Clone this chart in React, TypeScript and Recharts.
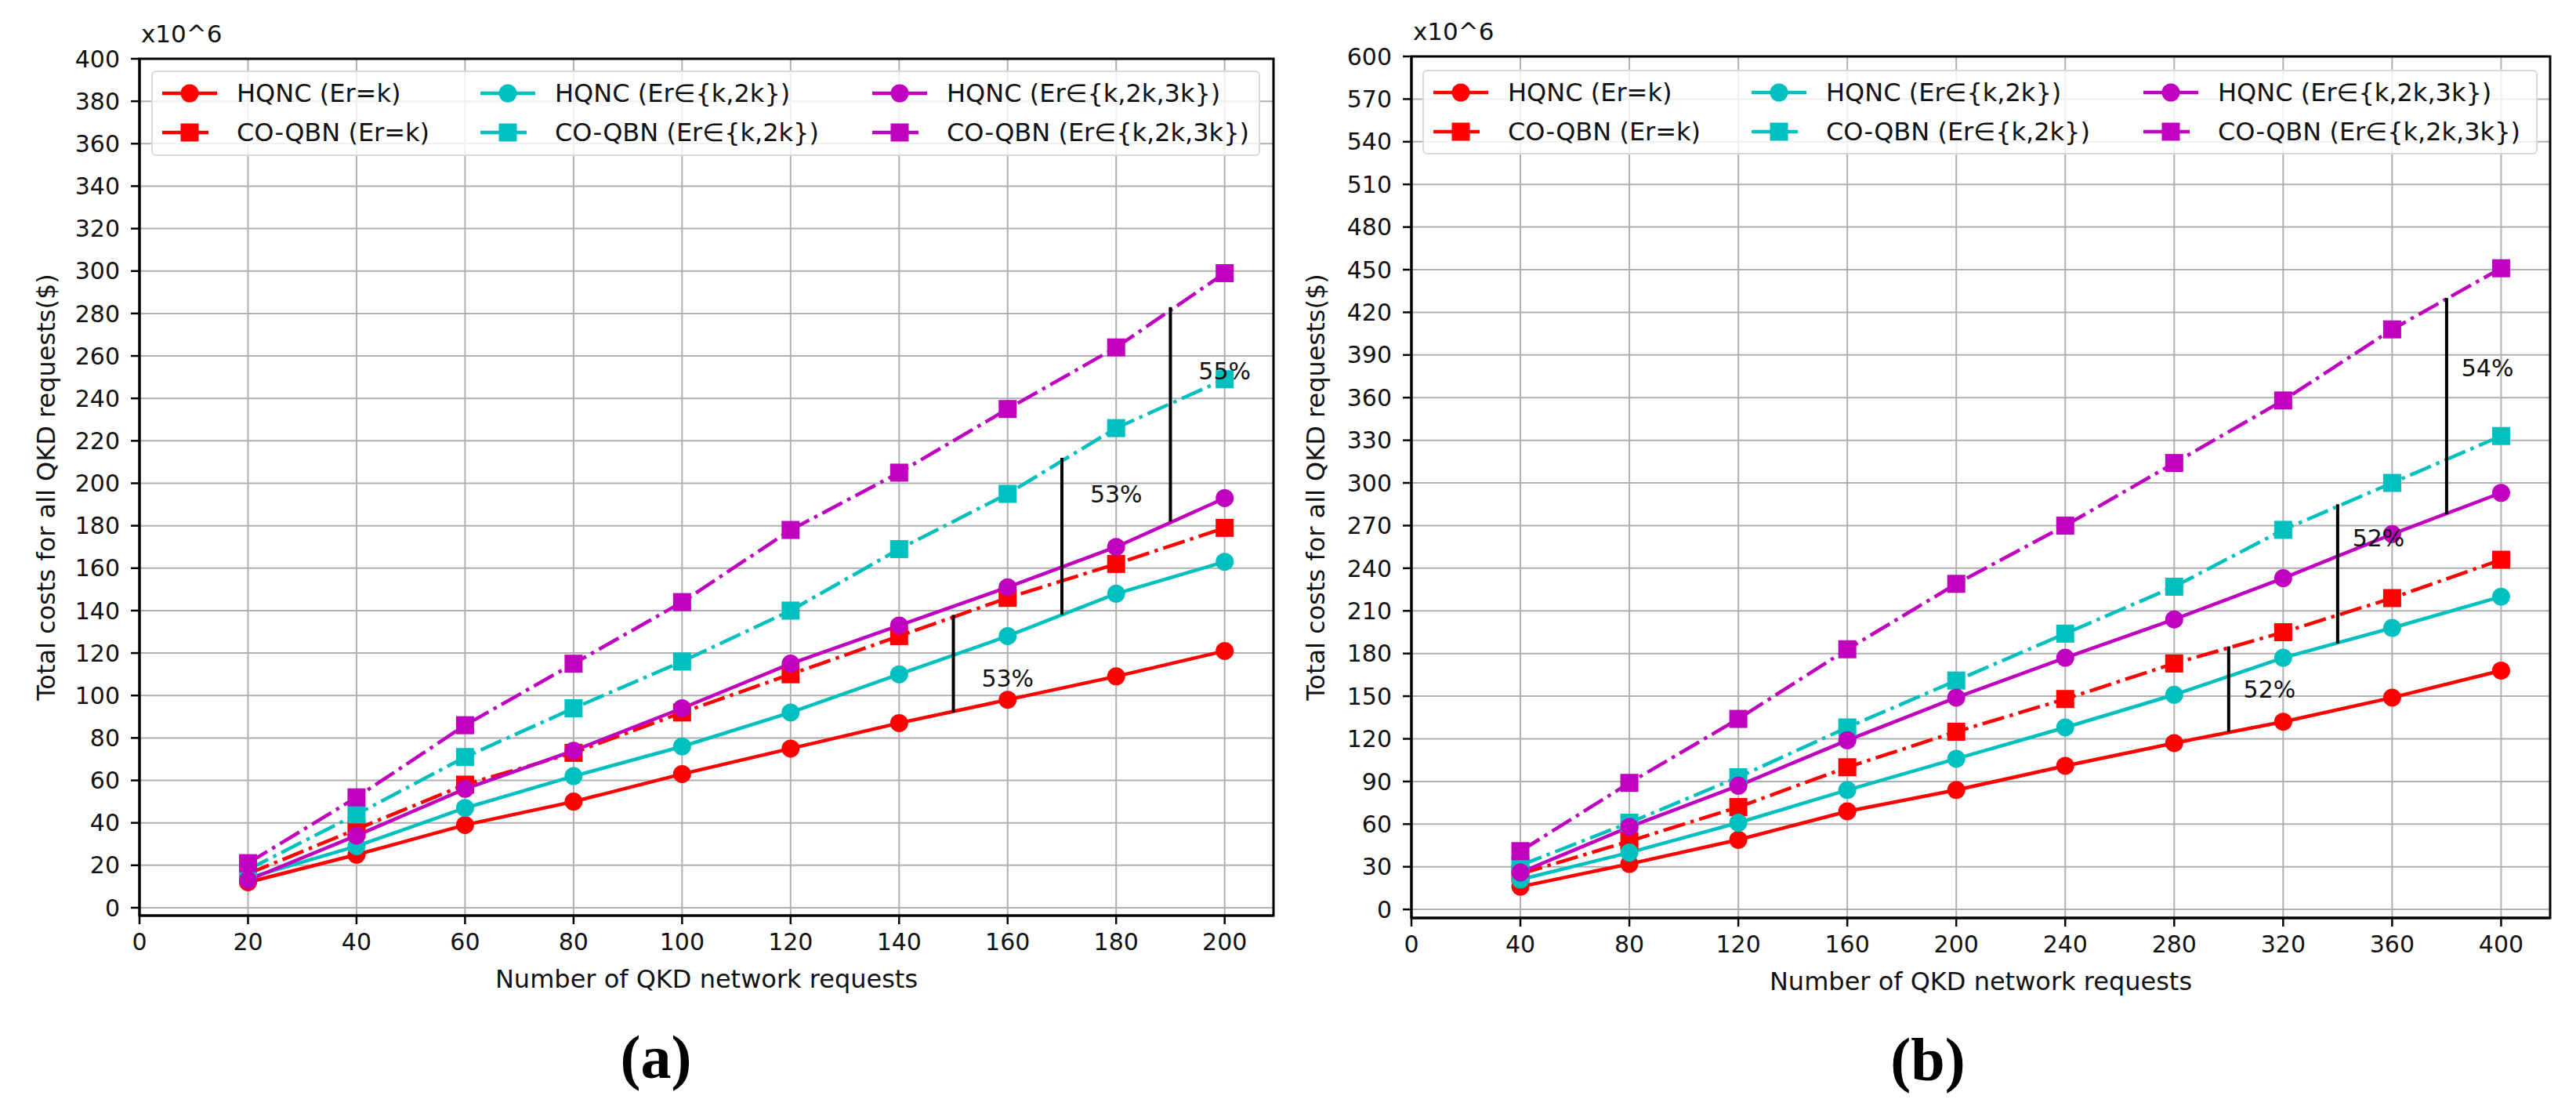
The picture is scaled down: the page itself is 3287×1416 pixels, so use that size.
import React from "react";
import {
  LineChart, Line, XAxis, YAxis, CartesianGrid, Legend,
  ReferenceLine, ReferenceDot, ReferenceArea, Label,
} from "recharts";

const FONT = "DejaVu Sans";
const INK = "#111";
const DASH_DOT = "28.8 7.2 4.5 7.2";

// ---- panel (a): 20..200 requests, costs in 10^6 $
const requestsA = [20, 40, 60, 80, 100, 120, 140, 160, 180, 200];
const hqncKA = [12, 25, 39, 50, 63, 75, 87, 98, 109, 121];
const coqbnKA = [16, 37, 58, 73, 92, 110, 128, 146, 162, 179];
const hqnc2kA = [14, 29, 47, 62, 76, 92, 110, 128, 148, 163];
const coqbn2kA = [18, 44, 71, 94, 116, 140, 169, 195, 226, 249];
const hqnc3kA = [13, 34, 56, 74, 94, 115, 133, 151, 170, 193];
const coqbn3kA = [21, 52, 86, 115, 144, 178, 205, 235, 264, 299];
const xTicksA = [0, 20, 40, 60, 80, 100, 120, 140, 160, 180, 200];
const yTicksA = [0, 20, 40, 60, 80, 100, 120, 140, 160, 180, 200, 220, 240, 260, 280, 300, 320, 340, 360, 380, 400];
const gapsA = [
  { x: 150, from: 92, to: 138, text: "53%", tx: 160, ty: 108 },
  { x: 170, from: 138, to: 212, text: "53%", tx: 180, ty: 195 },
  { x: 190, from: 182, to: 283, text: "55%", tx: 200, ty: 253 },
];

// ---- panel (b): 40..400 requests
const requestsB = [40, 80, 120, 160, 200, 240, 280, 320, 360, 400];
const hqncKB = [16, 32, 49, 69, 84, 101, 117, 132, 149, 168];
const coqbnKB = [25, 48, 72, 100, 125, 148, 173, 195, 219, 246];
const hqnc2kB = [21, 40, 61, 84, 106, 128, 151, 177, 198, 220];
const coqbn2kB = [31, 61, 93, 128, 161, 194, 227, 267, 300, 333];
const hqnc3kB = [26, 58, 87, 119, 149, 177, 204, 233, 264, 293];
const coqbn3kB = [41, 89, 134, 183, 229, 270, 314, 358, 408, 451];
const xTicksB = [0, 40, 80, 120, 160, 200, 240, 280, 320, 360, 400];
const yTicksB = [0, 30, 60, 90, 120, 150, 180, 210, 240, 270, 300, 330, 360, 390, 420, 450, 480, 510, 540, 570, 600];
const gapsB = [
  { x: 300, from: 125, to: 185, text: "52%", tx: 315, ty: 155 },
  { x: 340, from: 187, to: 285, text: "52%", tx: 355, ty: 261 },
  { x: 380, from: 278, to: 430, text: "54%", tx: 395, ty: 381 },
];

const SERIES = [
  { key: "hqncK", name: "HQNC (Er=k)", color: "#ff0000", dashed: false },
  { key: "coqbnK", name: "CO-QBN (Er=k)", color: "#ff0000", dashed: true },
  { key: "hqnc2k", name: "HQNC (Er\u2208{k,2k})", color: "#00bfbf", dashed: false },
  { key: "coqbn2k", name: "CO-QBN (Er\u2208{k,2k})", color: "#00bfbf", dashed: true },
  { key: "hqnc3k", name: "HQNC (Er\u2208{k,2k,3k})", color: "#bf00bf", dashed: false },
  { key: "coqbn3k", name: "CO-QBN (Er\u2208{k,2k,3k})", color: "#bf00bf", dashed: true },
];

function buildRows(x: number[], cols: number[][]) {
  return x.map((v, i) => {
    const row: Record<string, number> = { x: v };
    SERIES.forEach((s, j) => { row[s.key] = cols[j][i]; });
    return row;
  });
}

const dataA = buildRows(requestsA, [hqncKA, coqbnKA, hqnc2kA, coqbn2kA, hqnc3kA, coqbn3kA]);
const dataB = buildRows(requestsB, [hqncKB, coqbnKB, hqnc2kB, coqbn2kB, hqnc3kB, coqbn3kB]);

const squareDot = (color: string) => (p: any) => {
  if (p.cx == null || p.cy == null) return <g key={`n-${p.index}`} />;
  return <rect key={`sq-${p.index}`} x={p.cx - 11.5} y={p.cy - 11.5} width={23} height={23} fill={color} />;
};

function Handle({ color, dashed }: { color: string; dashed: boolean }) {
  return (
    <svg width={70} height={26} style={{ flex: "none", marginRight: 25 }}>
      <line x1={0} y1={13} x2={70} y2={13} stroke={color} strokeWidth={4.5} strokeDasharray={dashed ? "24 11 24 11" : undefined} />
      {dashed
        ? <rect x={23.5} y={1.5} width={23} height={23} fill={color} />
        : <circle cx={35} cy={13} r={11.5} fill={color} />}
    </svg>
  );
}

// legend keeps the matplotlib column order (ncol=3), so it reads SERIES directly
function LegendBox() {
  return (
    <div style={{
      display: "grid", gridTemplateColumns: "406px 500px auto", gridTemplateRows: "50px 50px",
      gridAutoFlow: "column", padding: "2px 12px", boxSizing: "border-box", height: "100%",
      border: "2px solid #d9d9d9", borderRadius: 6, background: "rgba(255,255,255,0.8)",
      fontFamily: FONT, fontSize: 32, color: INK,
    }}>
      {SERIES.map(s => (
        <div key={s.key} style={{ display: "flex", alignItems: "center", whiteSpace: "nowrap" }}>
          <Handle color={s.color} dashed={s.dashed} />
          <span>{s.name}</span>
        </div>
      ))}
    </div>
  );
}

interface PanelProps {
  data: Record<string, number>[];
  xTicks: number[];
  yTicks: number[];
  xDomain: [number, number];
  yDomain: [number, number];
  gaps: { x: number; from: number; to: number; text: string; tx: number; ty: number }[];
  caption: string;
  left: number;
  width: number;
  margin: { top: number; right: number; left: number; bottom: number };
  legend: { left: number; top: number; width: number; height: number };
  titleDx: number;
}

function Panel(p: PanelProps) {
  const tick = { fontSize: 30, fill: INK, fontFamily: FONT };
  const tickLine = { stroke: "#000", strokeWidth: 2.5 };
  const axisLine = { stroke: "#000", strokeWidth: 3 };
  return (
    <div style={{ position: "absolute", left: p.left, top: 0 }}>
      <LineChart width={p.width} height={1416} data={p.data} margin={p.margin}>
        <CartesianGrid stroke="#b0b0b0" strokeWidth={2} />
        <XAxis
          dataKey="x" type="number" domain={p.xDomain} ticks={p.xTicks} allowDataOverflow
          height={60} tick={tick} tickLine={tickLine} axisLine={axisLine} tickSize={11} tickMargin={12}
        >
          <Label content={(lp: any) => {
            const vb = lp.viewBox || {};
            return (
              <text x={vb.x + vb.width / 2} y={vb.y + 92} textAnchor="middle" fontSize={32} fontFamily={FONT} fill={INK}>
                Number of QKD network requests
              </text>
            );
          }} />
          <Label content={(lp: any) => {
            const vb = lp.viewBox || {};
            return (
              <text x={vb.x + 659} y={vb.y + 207} textAnchor="middle" fontSize={78} fontWeight="bold" fontFamily="Liberation Serif" fill="#000">
                {p.caption}
              </text>
            );
          }} />
        </XAxis>
        <YAxis
          type="number" domain={p.yDomain} ticks={p.yTicks} allowDataOverflow
          width={100} tick={tick} tickLine={tickLine} axisLine={axisLine} tickSize={11} tickMargin={14}
        >
          <Label content={(lp: any) => {
            const vb = lp.viewBox || {};
            const cx = vb.x + p.titleDx;
            const cy = vb.y + vb.height / 2;
            return (
              <text x={cx} y={cy} transform={`rotate(-90 ${cx} ${cy})`} textAnchor="middle" dominantBaseline="central"
                fontSize={32} fontFamily={FONT} fill={INK}>
                Total costs for all QKD requests($)
              </text>
            );
          }} />
          <Label content={(lp: any) => {
            const vb = lp.viewBox || {};
            return (
              <text x={vb.x + 102} y={vb.y - 21} fontSize={31} fontFamily={FONT} fill={INK}>x10^6</text>
            );
          }} />
        </YAxis>
        <ReferenceArea x1={p.xDomain[0]} x2={p.xDomain[1]} y1={p.yDomain[0]} y2={p.yDomain[1]}
          fill="none" fillOpacity={0} stroke="#000" strokeWidth={3} />
        {SERIES.map(s => (
          <Line
            key={s.key} type="linear" dataKey={s.key} name={s.name} stroke={s.color} strokeWidth={4.5}
            strokeDasharray={s.dashed ? DASH_DOT : undefined}
            dot={s.dashed ? squareDot(s.color) : { r: 11.5, fill: s.color, stroke: s.color, strokeWidth: 0 }}
            activeDot={false} isAnimationActive={false}
          />
        ))}
        {p.gaps.map((g, i) => (
          <ReferenceLine key={`gl-${i}`} segment={[{ x: g.x, y: g.from }, { x: g.x, y: g.to }]} stroke="#000" strokeWidth={4} />
        ))}
        {p.gaps.map((g, i) => (
          <ReferenceDot key={`gt-${i}`} x={g.tx} y={g.ty} r={0} fill="none" stroke="none"
            label={{ value: g.text, position: "center", fill: INK, fontSize: 30, fontFamily: FONT }} />
        ))}
        <Legend
          layout="vertical" align="center" verticalAlign="middle"
          wrapperStyle={{ left: p.legend.left, top: p.legend.top, width: p.legend.width, height: p.legend.height }}
          content={<LegendBox />}
        />
      </LineChart>
    </div>
  );
}

export default function App() {
  return (
    <div style={{ position: "absolute", left: 0, top: 0, width: 3287, height: 1416, background: "#fff", overflow: "hidden" }}>
      <Panel
        data={dataA} xTicks={xTicksA} yTicks={yTicksA} xDomain={[0, 209]} yDomain={[-3.7, 400]}
        gaps={gapsA} caption="(a)" left={0} width={1640}
        margin={{ top: 75, right: 15, left: 78, bottom: 188 }}
        legend={{ left: 193, top: 90, width: 1415, height: 109 }} titleDx={-19}
      />
      <Panel
        data={dataB} xTicks={xTicksB} yTicks={yTicksB} xDomain={[0, 418]} yDomain={[-6, 600]}
        gaps={gapsB} caption="(b)" left={1640} width={1647}
        margin={{ top: 72, right: 33, left: 61, bottom: 185 }}
        legend={{ left: 175, top: 89, width: 1423, height: 108 }} titleDx={-22}
      />
    </div>
  );
}
